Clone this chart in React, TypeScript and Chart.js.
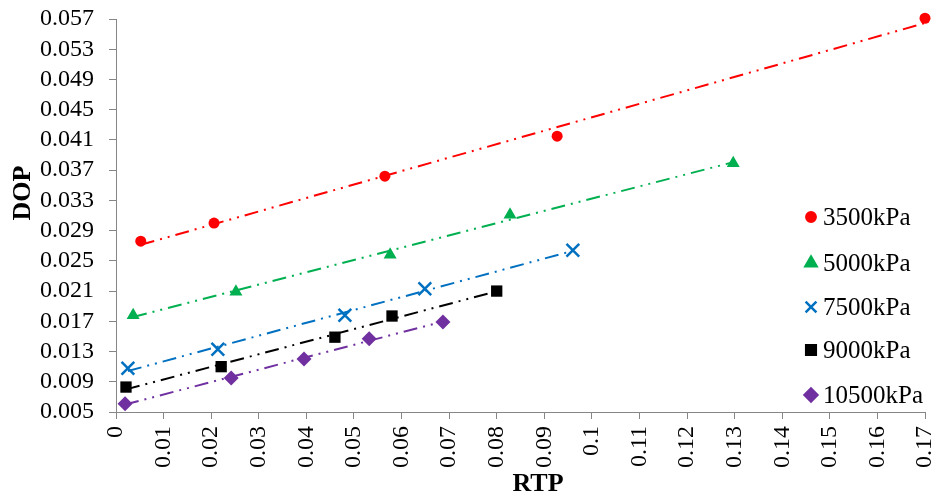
import React, { useEffect, useRef } from "react";
import { Chart, registerables } from "chart.js";
import { drawPoint } from "chart.js/helpers";

Chart.register(...registerables);

const seriesNames = ["3500kPa", "5000kPa", "7500kPa", "9000kPa", "10500kPa"];
const seriesColors = ["#FF0000", "#00B050", "#0070C0", "#000000", "#7030A0"];
const seriesPointStyles = ["circle", "triangle", "crossRot", "rect", "rectRot"];
const seriesPointRadii = [5.5, 7.5, 9, 8, 7.5];

const rtp3500 = [0.0052, 0.0206, 0.0565, 0.0927, 0.17];
const dop3500 = [0.0276, 0.03, 0.0362, 0.0415, 0.0571];

const rtp5000 = [0.0036, 0.0252, 0.0576, 0.0828, 0.1297];
const dop5000 = [0.0178, 0.0209, 0.0258, 0.0311, 0.0379];

const rtp7500 = [0.0025, 0.0214, 0.0481, 0.0649, 0.096];
const dop7500 = [0.0108, 0.0133, 0.0178, 0.0213, 0.0264];

const rtp9000 = [0.0021, 0.0221, 0.046, 0.058, 0.08];
const dop9000 = [0.0083, 0.011, 0.0149, 0.0177, 0.021];

const rtp10500 = [0.0019, 0.0242, 0.0395, 0.0532, 0.0687];
const dop10500 = [0.0061, 0.0095, 0.012, 0.0147, 0.0169];

const seriesX = [rtp3500, rtp5000, rtp7500, rtp9000, rtp10500];
const seriesY = [dop3500, dop5000, dop7500, dop9000, dop10500];

const yMin = 0.005;
const yMax = 0.057;
const yStep = 0.004;
const xMin = 0;
const xMax = 0.17;
const xStep = 0.01;

const xTitle = "RTP";
const yTitle = "DOP";

const FONT = "'Liberation Serif', 'Times New Roman', serif";

function linearFit(xs: number[], ys: number[]) {
  const n = xs.length;
  let sx = 0, sy = 0, sxx = 0, sxy = 0;
  for (let i = 0; i < n; i++) {
    sx += xs[i];
    sy += ys[i];
    sxx += xs[i] * xs[i];
    sxy += xs[i] * ys[i];
  }
  const slope = (n * sxy - sx * sy) / (n * sxx - sx * sx);
  const intercept = (sy - slope * sx) / n;
  const x0 = Math.min(...xs);
  const x1 = Math.max(...xs);
  return [
    { x: x0, y: intercept + slope * x0 },
    { x: x1, y: intercept + slope * x1 },
  ];
}

const overlayPlugin = {
  id: "overlay",
  afterDraw(chart: any) {
    const ctx = chart.ctx;
    ctx.save();
    const rowsY = [217, 263, 307, 350, 395];
    for (let i = 0; i < seriesNames.length; i++) {
      const y = rowsY[i];
      ctx.fillStyle = seriesColors[i];
      ctx.strokeStyle = seriesColors[i];
      ctx.lineWidth = 2.5;
      drawPoint(
        ctx,
        {
          pointStyle: seriesPointStyles[i] as any,
          radius: seriesPointRadii[i] * 0.85,
          rotation: 0,
          borderWidth: 2.5,
        } as any,
        811,
        y
      );
      ctx.fillStyle = "#000000";
      ctx.font = `25px ${FONT}`;
      ctx.textAlign = "left";
      ctx.textBaseline = "middle";
      ctx.fillText(seriesNames[i], 823, y + 1);
    }
    ctx.fillStyle = "#000000";
    ctx.font = `bold 26px ${FONT}`;
    ctx.textAlign = "center";
    ctx.textBaseline = "middle";
    ctx.fillText(xTitle, 538, 484);
    ctx.translate(23, 193);
    ctx.rotate(-Math.PI / 2);
    ctx.fillText(yTitle, 0, 0);
    ctx.restore();
  },
};

function zeroPad(scale: any) {
  scale.paddingTop = 0;
  scale.paddingBottom = 0;
  scale.paddingLeft = 0;
  scale.paddingRight = 0;
}

export default function App() {
  const canvasRef = useRef<HTMLCanvasElement | null>(null);

  useEffect(() => {
    const canvas = canvasRef.current;
    if (!canvas) return;

    const datasets: any[] = [];
    for (let i = 0; i < seriesNames.length; i++) {
      datasets.push({
        type: "line",
        label: seriesNames[i] + " trend",
        data: linearFit(seriesX[i], seriesY[i]),
        borderColor: seriesColors[i],
        borderWidth: 2,
        borderDash: [14, 6, 2, 6, 2, 6],
        pointRadius: 0,
        fill: false,
        clip: false,
        order: 2,
      });
    }
    for (let i = 0; i < seriesNames.length; i++) {
      datasets.push({
        type: "scatter",
        label: seriesNames[i],
        data: seriesX[i].map((x, j) => ({ x, y: seriesY[i][j] })),
        backgroundColor: seriesColors[i],
        borderColor: seriesColors[i],
        borderWidth: seriesPointStyles[i] === "crossRot" ? 2.5 : 0,
        pointStyle: seriesPointStyles[i],
        pointRadius: seriesPointRadii[i],
        showLine: false,
        clip: false,
        order: 1,
      });
    }

    const chart = new Chart(canvas, {
      type: "scatter",
      data: { datasets },
      plugins: [overlayPlugin],
      options: {
        animation: false,
        responsive: false,
        maintainAspectRatio: false,
        layout: { padding: { top: 19, right: 13, left: 0, bottom: 0 } },
        plugins: {
          legend: { display: false },
          tooltip: { enabled: false },
          title: { display: false },
        },
        scales: {
          x: {
            type: "linear",
            min: xMin,
            max: xMax,
            afterBuildTicks: (scale: any) => {
              const t = [];
              for (let k = 0; xMin + k * xStep <= xMax + 1e-9; k++) t.push({ value: Math.round((xMin + k * xStep) * 100) / 100 });
              scale.ticks = t;
            },
            afterFit: (scale: any) => {
              scale.height = 86;
              zeroPad(scale);
            },
            border: { display: true, color: "#868686", width: 1 },
            grid: {
              drawOnChartArea: false,
              drawTicks: true,
              tickLength: 7,
              tickColor: "#868686",
            },
            ticks: {
              autoSkip: false,
              minRotation: 90,
              maxRotation: 90,
              padding: 7,
              color: "#000000",
              font: { family: FONT, size: 24 },
              callback: (v: any) => String(parseFloat(Number(v).toFixed(2))),
            },
          },
          y: {
            type: "linear",
            min: yMin,
            max: yMax,
            afterBuildTicks: (scale: any) => {
              const t = [];
              for (let k = 0; yMin + k * yStep <= yMax + 1e-9; k++) t.push({ value: Math.round((yMin + k * yStep) * 1000) / 1000 });
              scale.ticks = t;
            },
            afterFit: (scale: any) => {
              scale.width = 116;
              zeroPad(scale);
            },
            border: { display: true, color: "#868686", width: 1 },
            grid: {
              drawOnChartArea: false,
              drawTicks: true,
              tickLength: 7,
              tickColor: "#868686",
            },
            ticks: {
              autoSkip: false,
              padding: 15,
              color: "#000000",
              font: { family: FONT, size: 24 },
              callback: (v: any) => Number(v).toFixed(3),
            },
          },
        },
      } as any,
    });

    return () => chart.destroy();
  }, []);

  return (
    <div style={{ position: "fixed", left: 0, top: 0, width: 938, height: 498, background: "#ffffff" }}>
      <canvas ref={canvasRef} width={938} height={498} style={{ width: 938, height: 498 }} />
    </div>
  );
}
